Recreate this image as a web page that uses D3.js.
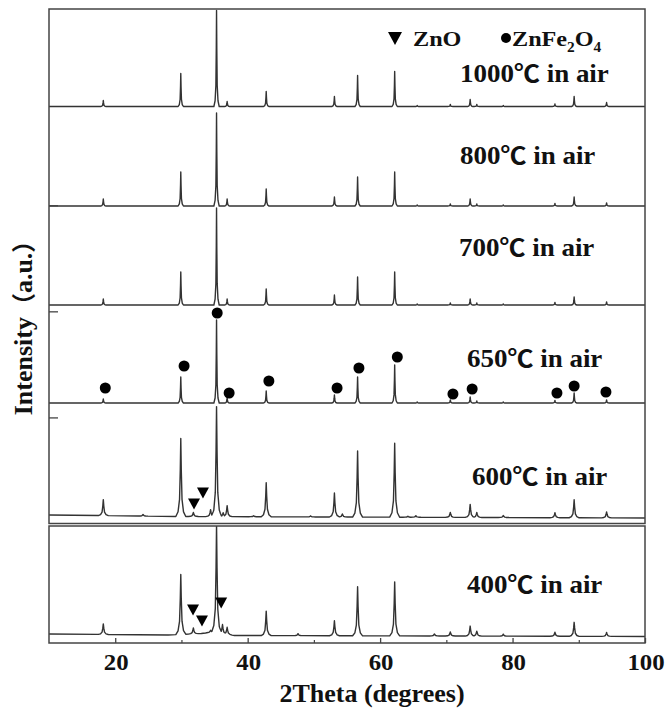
<!DOCTYPE html>
<html>
<head>
<meta charset="utf-8" />
<title>XRD patterns of ZnFe2O4 samples</title>
<script src="https://cdnjs.cloudflare.com/ajax/libs/d3/7.8.5/d3.min.js"></script>
<style>
  body { margin: 0; background: #fff; }
  svg text { font-family: "Liberation Serif", "Times New Roman", serif; font-weight: bold; fill: #111; }
  .cjk { font-family: "Noto Sans CJK SC", sans-serif; font-weight: bold; }
</style>
</head>
<body>
<svg id="chart" width="667" height="710"></svg>
<script>
// ---- data ----
const labels = ["1000", "800", "700", "650", "600", "400"];

// peaks: [2theta, height in a.u.] above the local baseline
const peaks1000 = [[18.2,6],[29.9,33],[35.3,96],[36.9,5],[42.8,15],[53.1,10],[56.6,31],[62.2,35],[65.6,1],[70.6,2],[73.6,7],[74.6,2],[78.6,1],[86.4,2.5],[89.3,10],[94.2,4]];
const peaks800  = [[18.2,7],[29.9,34],[35.3,93],[36.9,7],[42.8,17],[53.1,9],[56.6,29],[62.2,34],[65.6,1],[70.6,2],[73.6,7],[74.6,2],[78.6,1],[86.4,2.5],[89.3,9],[94.2,3]];
const peaks700  = [[18.2,6],[29.9,33],[35.3,97],[36.9,6],[42.8,16],[53.1,10],[56.6,28],[62.2,33],[65.6,1],[70.6,2],[73.6,6],[74.6,2],[78.6,1],[86.4,2.5],[89.3,8],[94.2,3]];
const peaks650  = [[18.2,4],[29.9,26],[35.3,83],[36.9,5],[42.8,12],[53.1,8],[56.6,26],[62.2,38],[65.6,1],[70.6,3],[73.6,6],[74.6,2],[78.6,1],[86.4,2.5],[89.3,10],[94.2,3]];
const peaks600  = [[18.2,16],[24.2,1.5],[29.9,78],[31.8,4],[34.4,7],[35.3,110],[36.3,4],[36.9,11],[40.9,1],[42.8,34],[49.5,1],[53.1,24],[54.3,3],[56.6,66],[62.2,74],[64.2,1],[65.4,1.5],[70.6,5],[73.6,13],[74.6,5],[78.6,2],[86.4,5],[89.3,18],[94.2,6]];
const peaks400  = [[18.2,10.5],[29.9,60],[31.8,6],[34.4,2],[35.3,108],[36.2,9],[36.9,7],[42.8,24.5],[47.6,2],[53.1,15],[56.6,49],[62.2,54],[68.2,2],[70.6,4],[73.6,10],[74.6,5],[78.6,2],[86.4,4],[89.3,14],[94.2,4]];

// baseline levels [2theta, a.u.]
const base1000 = [[10,0],[100,0]];
const base800  = [[10,0],[100,0]];
const base700  = [[10,0],[100,0]];
const base650  = [[10,0],[100,0]];
const base600  = [[10,3],[30,1.5],[100,0]];
const base400  = [[10,3],[28,2],[33,3.5],[34.8,5],[38,1.5],[100,0.5]];

// phase markers [2theta, a.u.]
const dots650 = [[18.5,15],[30.4,37],[35.4,90],[37.2,10],[43.2,22],[53.5,15],[56.8,35],[62.6,46],[71.0,9],[73.9,14],[86.7,10],[89.3,17],[94.1,11]];
const tri600 = [[31.9,14],[33.25,25]];
const tri400 = [[31.75,27],[33.1,16],[36.0,34]];

const xMajor = [20, 40, 60, 80, 100];
const xMinor = [30, 50, 70, 90];
const intensityTicks = [1, 2, 3];

// ---- layout ----
const left = 49, right = 645;
const upperTop = 9, upperBottom = 523.5, lowerTop = 526, lowerBottom = 643;
const panelBase = [106.5, 206, 305, 403, 518, 637];
const labelPos = [[460, 82], [460, 164], [459, 256], [467, 367], [472, 485], [467, 593]];
const halfWidth = [0.4, 0.4, 0.4, 0.4, 0.75, 0.75];
// peak profile: [offset in half widths, fraction of height]
const profile = [[-1,0],[-0.55,0.06],[-0.25,0.22],[-0.1,0.6],[0,1],[0.1,0.6],[0.25,0.22],[0.55,0.06],[1,0]];

const allPeaks = [peaks1000, peaks800, peaks700, peaks650, peaks600, peaks400];
const allBase = [base1000, base800, base700, base650, base600, base400];

const svg = d3.select("#chart");
const x = d3.scaleLinear().domain([10, 100]).range([left, right]);

const defs = svg.append("defs");
defs.append("clipPath").attr("id", "clipUp").append("rect")
  .attr("x", left).attr("y", upperTop).attr("width", right - left).attr("height", upperBottom - upperTop);
defs.append("clipPath").attr("id", "clipLow").append("rect")
  .attr("x", left).attr("y", lowerTop).attr("width", right - left).attr("height", lowerBottom - lowerTop);

function trace(peaks, base, w) {
  const baseScale = d3.scaleLinear().domain(base.map(d => d[0])).range(base.map(d => d[1]));
  const shapes = peaks.map(p => profile.map(q => [p[0] + q[0] * w, q[1] * p[1]]));
  const xs = [10, 100];
  base.forEach(b => xs.push(b[0]));
  shapes.forEach(s => s.forEach(v => xs.push(v[0])));
  xs.sort((a, b) => a - b);
  return xs.filter(v => v >= 10 && v <= 100).map(xv => {
    let h = 0;
    shapes.forEach(s => {
      if (xv <= s[0][0] || xv >= s[s.length - 1][0]) return;
      for (let i = 0; i < s.length - 1; i++) {
        if (xv >= s[i][0] && xv <= s[i + 1][0]) {
          const t = (xv - s[i][0]) / (s[i + 1][0] - s[i][0]);
          h = Math.max(h, s[i][1] + t * (s[i + 1][1] - s[i][1]));
        }
      }
    });
    return [xv, baseScale(xv) + h];
  });
}

const gUp = svg.append("g").attr("clip-path", "url(#clipUp)");
const gLow = svg.append("g").attr("clip-path", "url(#clipLow)");

const yScales = panelBase.map(b => d3.scaleLinear().domain([0, 100]).range([b, b - 100]));

allPeaks.forEach((pk, i) => {
  const y = yScales[i];
  const line = d3.line().x(d => x(d[0])).y(d => y(d[1]));
  (i < 5 ? gUp : gLow).append("path")
    .datum(trace(pk, allBase[i], halfWidth[i]))
    .attr("d", line)
    .attr("fill", "none")
    .attr("stroke", "#333")
    .attr("stroke-width", 1.4)
    .attr("stroke-linejoin", "round");
});

// frames
svg.append("rect").attr("x", left).attr("y", upperTop).attr("width", right - left).attr("height", upperBottom - upperTop)
  .attr("fill", "none").attr("stroke", "#444").attr("stroke-width", 1.5);
svg.append("rect").attr("x", left).attr("y", lowerTop).attr("width", right - left).attr("height", lowerBottom - lowerTop)
  .attr("fill", "none").attr("stroke", "#444").attr("stroke-width", 1.5);

// intensity ticks on the upper plot
const yAU = d3.scaleLinear().domain([0, 4.85]).range([upperBottom, upperTop]);
const yAxis = svg.append("g").attr("transform", `translate(${left},0)`)
  .call(d3.axisLeft(yAU).tickValues(intensityTicks).tickSizeInner(-9).tickSizeOuter(0).tickFormat(""));
yAxis.select(".domain").remove();
yAxis.selectAll("line").attr("stroke", "#444").attr("stroke-width", 1.3);

// x axis ticks (inward)
const xAxis = svg.append("g").attr("transform", `translate(0,${lowerBottom})`)
  .call(d3.axisBottom(x).tickValues(xMajor).tickSizeInner(-5).tickSizeOuter(0).tickFormat(""));
xAxis.select(".domain").remove();
xAxis.selectAll("line").attr("stroke", "#444").attr("stroke-width", 1.3);
const xAxisMinor = svg.append("g").attr("transform", `translate(0,${lowerBottom})`)
  .call(d3.axisBottom(x).tickValues(xMinor).tickSizeInner(-3).tickSizeOuter(0).tickFormat(""));
xAxisMinor.select(".domain").remove();
xAxisMinor.selectAll("line").attr("stroke", "#444").attr("stroke-width", 1.2);

svg.append("g").selectAll("text").data(xMajor).join("text")
  .attr("transform", d => `translate(${x(d) + 1},670) scale(1.08,1)`)
  .attr("text-anchor", "middle").attr("font-size", 23).text(d => d);

// axis titles
svg.append("text").attr("x", 372).attr("y", 702).attr("text-anchor", "middle")
  .attr("font-size", 26).text("2Theta (degrees)");
svg.append("text").attr("transform", "translate(32,322) rotate(-90)").attr("text-anchor", "middle")
  .attr("font-size", 26)
  .call(t => {
    t.append("tspan").text("Intensity");
    t.append("tspan").attr("class", "cjk").attr("font-size", 24).text("（");
    t.append("tspan").text("a.u.");
    t.append("tspan").attr("class", "cjk").attr("font-size", 24).text("）");
  });

// panel labels
labels.forEach((lab, i) => {
  const t = svg.append("text")
    .attr("transform", `translate(${labelPos[i][0]},${labelPos[i][1]}) scale(1.08,1)`)
    .attr("font-size", 25);
  t.append("tspan").text(lab);
  t.append("tspan").attr("class", "cjk").attr("font-size", 24).text("℃");
  t.append("tspan").text(" in air");
});

// markers
const triPath = "M-6,-5.5L6,-5.5L0,5.5Z";
svg.append("g").selectAll("circle").data(dots650).join("circle")
  .attr("cx", d => x(d[0])).attr("cy", d => yScales[3](d[1])).attr("r", 5.5).attr("fill", "#000");
svg.append("g").selectAll("path").data(tri600).join("path")
  .attr("transform", d => `translate(${x(d[0])},${yScales[4](d[1])})`).attr("d", triPath).attr("fill", "#000");
svg.append("g").selectAll("path").data(tri400).join("path")
  .attr("transform", d => `translate(${x(d[0])},${yScales[5](d[1])})`).attr("d", triPath).attr("fill", "#000");

// legend
svg.append("path").attr("transform", "translate(395,38.5)").attr("d", "M-7,-6.5L7,-6.5L0,6.5Z").attr("fill", "#000");
svg.append("text").attr("transform", "translate(413,46) scale(1.1,1)").attr("font-size", 22).text("ZnO");
svg.append("circle").attr("cx", 506).attr("cy", 38).attr("r", 5).attr("fill", "#000");
svg.append("text").attr("transform", "translate(512,46) scale(1.1,1)").attr("font-size", 22)
  .call(t => {
    t.append("tspan").text("ZnFe");
    t.append("tspan").attr("font-size", 14).attr("dy", 6).text("2");
    t.append("tspan").attr("dy", -6).text("O");
    t.append("tspan").attr("font-size", 14).attr("dy", 6).text("4");
  });
</script>
</body>
</html>
